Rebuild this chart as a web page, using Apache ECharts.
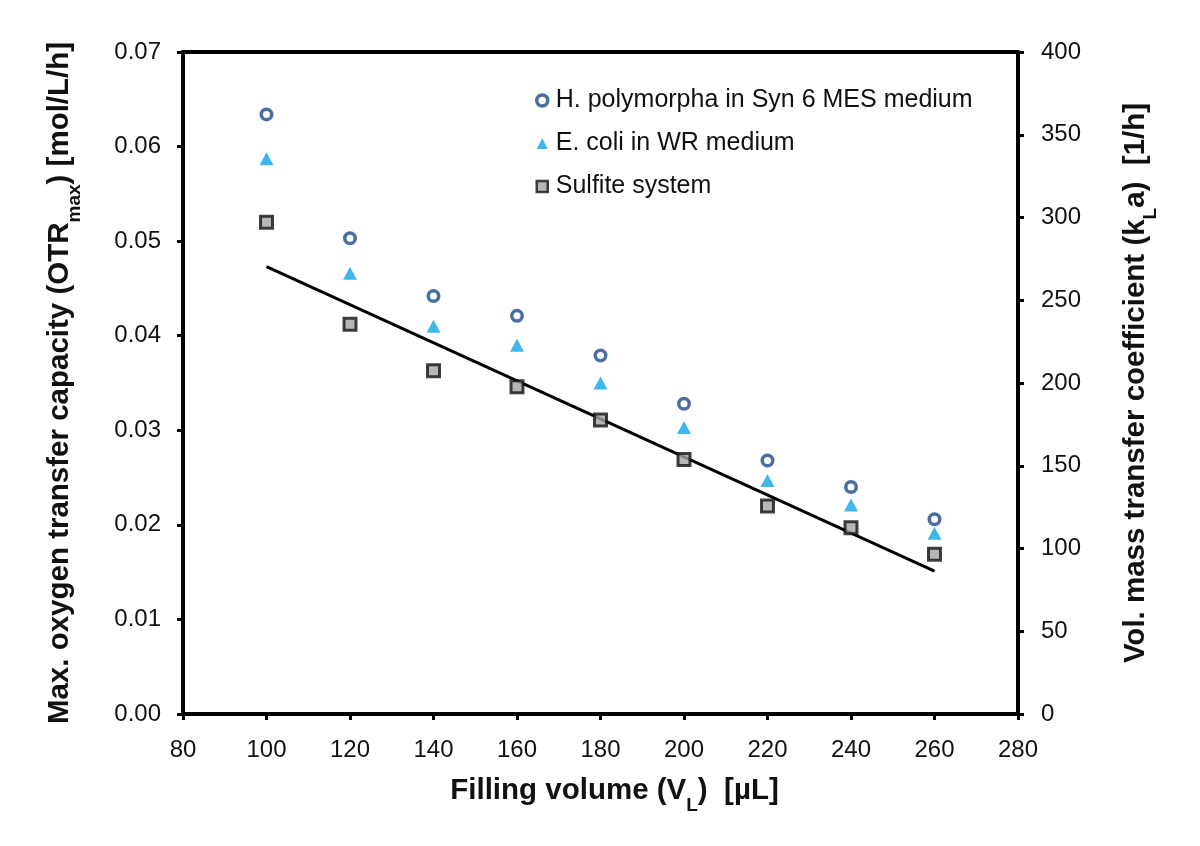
<!DOCTYPE html>
<html><head><meta charset="utf-8">
<script src="https://cdn.jsdelivr.net/npm/echarts@6/dist/echarts.min.js"></script>
<style>html,body{margin:0;padding:0;background:#fff}#c{width:1200px;height:846px}</style>
</head><body><div id="c"></div>
<script>
const volumes = [100, 120, 140, 160, 180, 200, 220, 240, 260];
const hPolymorpha = [0.0634, 0.0503, 0.0442, 0.0421, 0.0379, 0.0328, 0.0268, 0.0240, 0.0206];
const eColi = [0.0587, 0.0466, 0.0410, 0.0390, 0.0350, 0.0303, 0.0247, 0.0221, 0.0191];
const sulfite = [0.0520, 0.0412, 0.0363, 0.0346, 0.0311, 0.0269, 0.0220, 0.0197, 0.0169];
const fitX = [100, 260];
const fitY = [0.0473, 0.0151];
const seriesNames = ['H. polymorpha in Syn 6 MES medium', 'E. coli in WR medium', 'Sulfite system'];

const pair = (xs, ys) => xs.map((x, i) => [x, ys[i]]);
const FONT = 'Liberation Sans, Arial, sans-serif';
const TFS = 29.5;
const rich = {
  b: { fontFamily: FONT, fontSize: TFS, fontWeight: 'bold', color: '#111', lineHeight: 33, verticalAlign: 'bottom' },
  s: { fontFamily: FONT, fontSize: 19, fontWeight: 'bold', color: '#111', lineHeight: 19, verticalAlign: 'bottom', padding: [0, 0, -9, 0] }
};
const axisLine = { show: true, onZero: false, lineStyle: { color: '#000', width: 4 } };
const axisTick = { show: true, lineStyle: { color: '#000', width: 3 }, length: 6 };
const labelStyle = { fontFamily: FONT, fontSize: 24, color: '#111' };
const circleStyle = { color: '#fff', borderColor: '#1d4a86', borderWidth: 3.5 };
const triStyle = { color: '#0ea5e8' };
const rectStyle = { color: '#a5a5a5', borderColor: '#111', borderWidth: 3 };

const chart = echarts.init(document.getElementById('c'));
chart.setOption({
  animation: false,
  backgroundColor: '#fff',
  grid: { left: 183, right: 182, top: 52, bottom: 132 },
  legend: {
    orient: 'vertical', left: 530, top: 81, itemGap: 14,
    itemWidth: 11, itemHeight: 11,
    textStyle: { fontFamily: FONT, fontSize: 25, color: '#111', lineHeight: 29, padding: [0, 0, 0, 3] },
    data: [
      { name: seriesNames[0], icon: 'circle', itemStyle: { color: '#fff', borderColor: '#1d4a86', borderWidth: 3.5 } },
      { name: seriesNames[1], icon: 'triangle', itemStyle: triStyle },
      { name: seriesNames[2], icon: 'rect', itemStyle: { color: '#a5a5a5', borderColor: '#111', borderWidth: 2.5 } }
    ]
  },
  xAxis: [{
    type: 'value', min: 80, max: 280, interval: 20,
    axisLine: axisLine, axisTick: axisTick,
    splitLine: { show: false },
    axisLabel: Object.assign({ margin: 24 }, labelStyle),
    name: '{b|Filling volume (V}{s|L}{b|)  [µL]}',
    nameLocation: 'middle', nameGap: 59,
    nameTextStyle: { rich: rich, padding: [0, 0, 0, 28] }
  }, {
    type: 'value', min: 80, max: 280, interval: 20, position: 'top',
    axisLine: axisLine, axisTick: { show: false }, axisLabel: { show: false },
    splitLine: { show: false }
  }],
  yAxis: [{
    type: 'value', min: 0, max: 0.07, interval: 0.01,
    axisLine: axisLine, axisTick: axisTick,
    splitLine: { show: false },
    axisLabel: Object.assign({ margin: 22, formatter: v => v.toFixed(2) }, labelStyle),
    name: '{b|Max. oxygen transfer capacity (OTR}{s|max}{b|) [mol/L/h]}',
    nameLocation: 'middle', nameGap: 108, nameRotate: 90,
    nameTextStyle: { rich: rich }
  }, {
    type: 'value', min: 0, max: 400, interval: 50, position: 'right',
    axisLine: axisLine, axisTick: axisTick,
    splitLine: { show: false },
    axisLabel: Object.assign({ margin: 23 }, labelStyle),
    name: '{b|Vol. mass transfer coefficient (k}{s|L}{b|a)  [1/h]}',
    nameLocation: 'middle', nameGap: 100, nameRotate: 90,
    nameTextStyle: { rich: rich }
  }],
  series: [{
    name: 'fit', type: 'line', data: pair(fitX, fitY), symbol: 'none',
    lineStyle: { color: '#000', width: 3 }, z: 1
  }, {
    name: seriesNames[2], type: 'scatter', data: pair(volumes, sulfite),
    symbol: 'rect', symbolSize: 12,
    itemStyle: rectStyle, z: 3
  }, {
    name: seriesNames[1], type: 'scatter', data: pair(volumes, eColi),
    symbol: 'triangle', symbolSize: [14, 13],
    itemStyle: triStyle, z: 3
  }, {
    name: seriesNames[0], type: 'scatter', data: pair(volumes, hPolymorpha),
    symbol: 'circle', symbolSize: 10.5,
    itemStyle: circleStyle, z: 3
  }]
});
</script></body></html>
